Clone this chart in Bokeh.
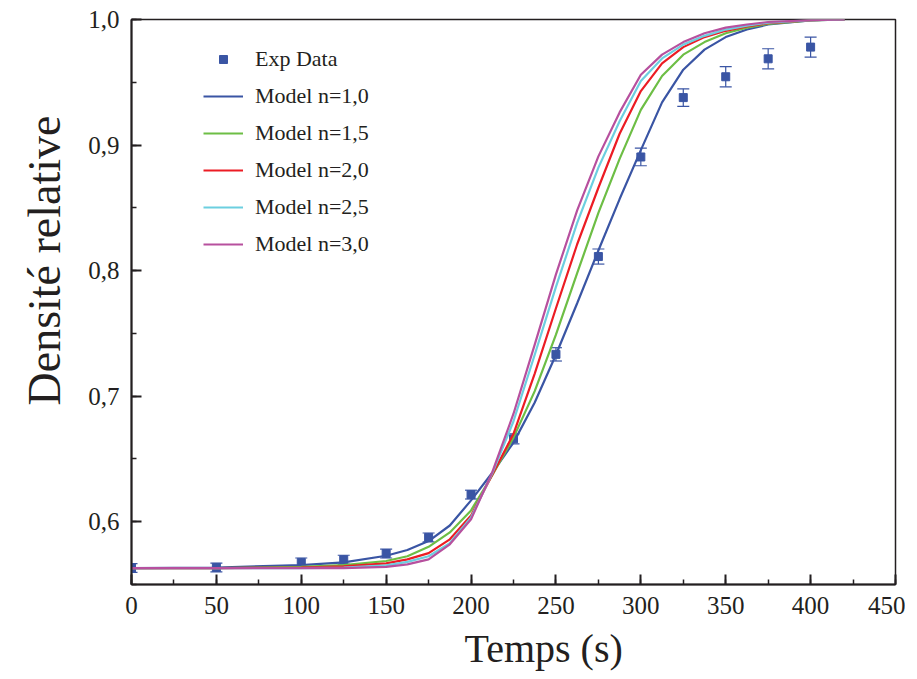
from bokeh.plotting import figure
from bokeh.models import (ColumnDataSource, Whisker, TeeHead, SingleIntervalTicker,
                          CustomJSTickFormatter, Legend, LegendItem, Range1d, Title)
from bokeh.embed import file_html
from bokeh.resources import INLINE

# ---- data ----
exp_t = [0, 50, 100, 125, 150, 175, 200, 225, 250, 275, 300, 325, 350, 375, 400]
exp_d = [0.5631, 0.5636, 0.5676, 0.5698, 0.5746, 0.5875, 0.6216, 0.666, 0.7333,
         0.8112, 0.8905, 0.9378, 0.9544, 0.9687, 0.978]
exp_err = [0.0035, 0.0035, 0.0035, 0.0035, 0.0035, 0.0035, 0.0035, 0.004, 0.0053,
           0.006, 0.007, 0.007, 0.008, 0.008, 0.008]

model_t = [0, 50, 100, 125, 150, 162.5, 175, 187.5, 200, 212.5, 225, 237.5, 250,
           262.5, 275, 287.5, 300, 312.5, 325, 337.5, 350, 362.5, 375, 400, 420]
model_n10 = [0.563, 0.5635, 0.5655, 0.5676, 0.5729, 0.5775, 0.5846, 0.597, 0.617, 0.639,
             0.663, 0.695, 0.733, 0.774, 0.816, 0.857, 0.896, 0.934, 0.960, 0.976,
             0.986, 0.992, 0.996, 0.9992, 1.0]
model_n15 = [0.563, 0.563, 0.564, 0.5655, 0.5687, 0.5725, 0.580, 0.5915, 0.609, 0.637,
             0.667, 0.704, 0.749, 0.798, 0.846, 0.889, 0.928, 0.955, 0.972, 0.982,
             0.989, 0.9935, 0.9965, 0.9993, 1.0]
model_n20 = [0.563, 0.563, 0.5635, 0.5644, 0.5668, 0.570, 0.575, 0.586, 0.605, 0.6375,
             0.670, 0.718, 0.770, 0.821, 0.866, 0.909, 0.943, 0.965, 0.978, 0.986,
             0.991, 0.9945, 0.997, 0.9995, 1.0]
model_n25 = [0.563, 0.563, 0.563, 0.5635, 0.5652, 0.568, 0.5725, 0.583, 0.6035, 0.6385,
             0.680, 0.733, 0.787, 0.838, 0.882, 0.919, 0.951, 0.969, 0.980, 0.987,
             0.992, 0.995, 0.9975, 0.9995, 1.0]
model_n30 = [0.563, 0.563, 0.563, 0.563, 0.5641, 0.566, 0.570, 0.582, 0.602, 0.6395,
             0.686, 0.741, 0.797, 0.848, 0.891, 0.926, 0.956, 0.972, 0.982, 0.989,
             0.9935, 0.996, 0.998, 0.9995, 1.0]

model_labels = ["Model n=1,0", "Model n=1,5", "Model n=2,0", "Model n=2,5", "Model n=3,0"]
model_series = [model_n10, model_n15, model_n20, model_n25, model_n30]
model_colors = ["#3A55A4", "#6DBE45", "#EC1C24", "#6CCFE0", "#B7509E"]
exp_color = "#3A55A4"

x_title = "Temps (s)"
y_title = "Densité relative"
x_ticks_interval = 50
y_ticks_interval = 0.1

FONT = "Liberation Serif"
INK = "#231F20"

p = figure(width=905, height=679, output_backend="svg", toolbar_location=None,
           x_range=Range1d(0, 450), y_range=Range1d(0.55, 1.0),
           min_border_left=130, min_border_right=10, min_border_top=19,
           min_border_bottom=95)

p.xgrid.visible = False
p.ygrid.visible = False
p.outline_line_color = INK
p.outline_line_width = 1.5
p.background_fill_color = "white"
p.border_fill_color = "white"

# experimental data
src = ColumnDataSource(dict(t=exp_t, d=exp_d,
                            lo=[d - e for d, e in zip(exp_d, exp_err)],
                            hi=[d + e for d, e in zip(exp_d, exp_err)]))
wh = Whisker(source=src, base="t", lower="lo", upper="hi", line_color=exp_color,
             line_width=1.2, level="underlay",
             upper_head=TeeHead(size=12, line_color=exp_color, line_width=1.2),
             lower_head=TeeHead(size=12, line_color=exp_color, line_width=1.2))
p.add_layout(wh)
sc = p.scatter("t", "d", source=src, marker="square", size=8, color=exp_color)

items = [LegendItem(label="Exp Data", renderers=[sc])]
for lab, ys, col in zip(model_labels, model_series, model_colors):
    r = p.line(model_t, ys, line_color=col, line_width=2.2)
    items.append(LegendItem(label=lab, renderers=[r]))

legend = Legend(items=items, location=(72, 327), border_line_color=None,
                background_fill_alpha=0, label_text_font=FONT,
                label_text_font_size="22px", label_text_color=INK,
                glyph_width=40, glyph_height=20, label_height=20,
                label_standoff=12, spacing=11, padding=0, margin=0)
p.add_layout(legend)

# axes
for ax in (p.xaxis[0], p.yaxis[0]):
    ax.axis_line_color = INK
    ax.axis_line_width = 2
    ax.major_tick_line_color = INK
    ax.major_tick_line_width = 2
    ax.minor_tick_line_color = INK
    ax.minor_tick_line_width = 1.5
    ax.major_tick_in = 10
    ax.major_tick_out = 0
    ax.minor_tick_in = 5
    ax.minor_tick_out = 0
    ax.major_label_text_font = FONT
    ax.major_label_text_font_size = "25px"
    ax.major_label_text_color = INK
    ax.major_label_standoff = 12

p.xaxis.ticker = SingleIntervalTicker(interval=x_ticks_interval, num_minor_ticks=2)
p.yaxis.ticker = SingleIntervalTicker(interval=y_ticks_interval, num_minor_ticks=2)
p.yaxis.formatter = CustomJSTickFormatter(code="return tick.toFixed(1).replace('.', ',');")
p.xaxis.formatter = CustomJSTickFormatter(code="return tick.toFixed(0);")

# axis titles (as side titles so they can be offset like the reference)
xt = Title(text=x_title, align="left", offset=333, standoff=15,
           text_font=FONT, text_font_size="40px", text_font_style="normal",
           text_color=INK)
yt = Title(text=y_title, align="left", offset=179, standoff=32,
           text_font=FONT, text_font_size="46px", text_font_style="normal",
           text_color=INK)
p.add_layout(xt, "below")
p.add_layout(yt, "left")

open("out.html", "w").write(file_html(p, INLINE))
